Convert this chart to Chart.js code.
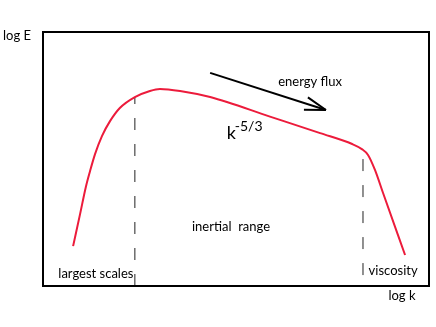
<!DOCTYPE html>
<html lang="en">
<head>
	<title>Energy spectrum</title>
	<script src="https://cdn.jsdelivr.net/npm/chart.js"></script>
	<style>
		html, body { margin: 0; padding: 0; background: #fff; }
		#wrap { width: 436px; height: 327px; }
	</style>
</head>
<body>
<div id="wrap"><canvas id="spectrum"></canvas></div>

<script>
	// spectrum curve (log k, log E)
	const logK = [0.78, 0.96, 1.11, 1.22, 1.35, 1.53, 1.74, 1.99, 2.38, 2.77, 3.03, 3.55, 4.33, 5.88, 7.18, 8.01, 8.26, 8.42, 8.60, 8.81, 9.38];
	const logE = [1.57, 2.83, 3.90, 4.53, 5.20, 5.91, 6.50, 7.01, 7.44, 7.68, 7.76, 7.68, 7.44, 6.67, 6.02, 5.59, 5.39, 5.16, 4.57, 3.66, 1.22];

	// dashed markers bounding the inertial range
	const markerK = [2.38, 8.29];
	const markerTop = [7.44, 5.24];
	const markerBottom = [0, 0.43];

	// energy flux arrow (start, tip)
	const fluxK = [4.33, 7.33];
	const fluxE = [8.39, 6.93];

	const labels = [
		{ text: 'energy flux', x: 6.92, y: 8.03 },
		{ text: 'inertial  range', x: 4.87, y: 2.32 },
		{ text: 'largest scales', x: 1.37, y: 0.47 },
		{ text: 'viscosity', x: 9.07, y: 0.59 },
		{ text: 'log k', x: 9.30, y: -0.39 }
	];

	const family = 'Lato, "Open Sans", sans-serif';

	const curve = logK.map((k, i) => ({ x: k, y: logE[i] }));
	const markers = markerK.map((k, i) => ({
		type: 'line',
		data: [{ x: k, y: markerBottom[i] }, { x: k, y: markerTop[i] }],
		borderColor: '#222',
		borderWidth: 1,
		borderDash: [12, 14],
		pointRadius: 0
	}));

	const decorations = {
		id: 'decorations',
		afterDatasetsDraw(chart) {
			const ctx = chart.ctx;
			const a = chart.chartArea;
			const sx = chart.scales.x, sy = chart.scales.y;
			ctx.save();
			// frame
			ctx.strokeStyle = '#000';
			ctx.lineWidth = 2;
			ctx.strokeRect(a.left, a.top, a.right - a.left, a.bottom - a.top);

			// arrow head
			const x0 = sx.getPixelForValue(fluxK[0]), y0 = sy.getPixelForValue(fluxE[0]);
			const x1 = sx.getPixelForValue(fluxK[1]), y1 = sy.getPixelForValue(fluxE[1]);
			const ang = Math.atan2(y1 - y0, x1 - x0);
			ctx.beginPath();
			[-0.3, 0.3].forEach(d => {
				ctx.moveTo(x1, y1);
				ctx.lineTo(x1 - 22 * Math.cos(ang + d), y1 - 22 * Math.sin(ang + d));
			});
			ctx.stroke();

			// text
			ctx.fillStyle = '#000';
			ctx.font = '13px ' + family;
			ctx.textAlign = 'center';
			ctx.textBaseline = 'middle';
			labels.forEach(l => {
				ctx.fillText(l.text, sx.getPixelForValue(l.x), sy.getPixelForValue(l.y));
			});
			ctx.textAlign = 'left';
			ctx.fillText('log E', 3, a.top + 4);

			// k^-5/3
			const kx = sx.getPixelForValue(4.76), ky = sy.getPixelForValue(5.79);
			ctx.textBaseline = 'alphabetic';
			ctx.font = '18px ' + family;
			ctx.fillText('k', kx, ky);
			ctx.font = '14px ' + family;
			ctx.fillText('-5/3', kx + 8, ky - 8);
			ctx.restore();
		}
	};

	new Chart(document.getElementById('spectrum'), {
		type: 'line',
		data: {
			datasets: [
				{
					data: curve,
					borderColor: '#ec1b3b',
					borderWidth: 2,
					pointRadius: 0,
					cubicInterpolationMode: 'monotone'
				},
				...markers,
				{
					data: fluxK.map((k, i) => ({ x: k, y: fluxE[i] })),
					borderColor: '#000',
					borderWidth: 2,
					pointRadius: 0
				}
			]
		},
		options: {
			responsive: true,
			maintainAspectRatio: false,
			animation: false,
			layout: { padding: { left: 43, top: 32, right: 7, bottom: 41 } },
			plugins: { legend: { display: false }, tooltip: { enabled: false } },
			scales: {
				x: { type: 'linear', min: 0, max: 10, display: false },
				y: { type: 'linear', min: 0, max: 10, display: false }
			}
		},
		plugins: [decorations]
	});
</script>
</body>
</html>
